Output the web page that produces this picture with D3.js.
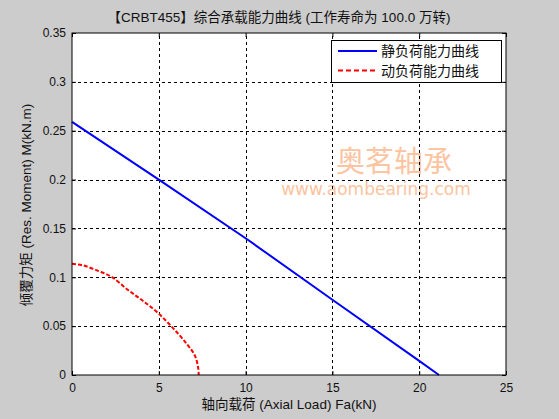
<!DOCTYPE html>
<html>
<head>
<meta charset="utf-8">
<script src="https://cdn.jsdelivr.net/npm/d3@7"></script>
<style>
  body { margin: 0; background: #cccccc; }
  svg { display: block; }
</style>
</head>
<body>
<svg id="chart" width="559" height="419"></svg>
<script>
// data
const staticLoad   = [0, 5, 10, 15, 20, 21.14];
const staticMoment = [0.259, 0.200, 0.140, 0.077, 0.0144, 0];

const dynLoad   = [0, 0.63, 1.5, 2.27, 3.23, 4.09, 4.95, 5.82, 6.59, 7.07, 7.26, 7.30];
const dynMoment = [0.1138, 0.1122, 0.1066, 0.1005, 0.0870, 0.0758, 0.0635, 0.0480, 0.0322, 0.0202, 0.0082, 0];

const xTicks = [0, 5, 10, 15, 20, 25];
const yTicks = [0, 0.05, 0.1, 0.15, 0.2, 0.25, 0.3, 0.35];
const legendNames = ["静负荷能力曲线", "动负荷能力曲线"];

const titleText = "【CRBT455】综合承载能力曲线 (工作寿命为 100.0 万转)";
const xLabel = "轴向载荷 (Axial Load) Fa(kN)";
const yLabel = "倾覆力矩 (Res. Moment) M(kN.m)";

function draw_chart() {
  const margin = ({top: 33, right: 53, bottom: 44, left: 72});
  const w = 559, h = 419;
  const svg = d3.select("#chart");
  const font = "'Liberation Sans', Arial, 'Noto Sans CJK SC', sans-serif";

  const x = d3.scaleLinear().domain([0, 25]).range([margin.left, w - margin.right]);
  const y = d3.scaleLinear().domain([0, 0.35]).range([h - margin.bottom, margin.top]);

  svg.selectAll('*').remove();

  // plot background
  svg.append("rect")
    .attr("x", x(0)).attr("y", y(0.35))
    .attr("width", x(25) - x(0)).attr("height", y(0) - y(0.35))
    .attr("fill", "white");

  // watermark
  svg.append("text")
    .attr("x", 394).attr("y", 172)
    .attr("text-anchor", "middle")
    .style("font-family", "'Noto Sans CJK SC', sans-serif")
    .style("font-size", "29px")
    .style("fill", "#fcc4a0")
    .text("奥茗轴承");
  svg.append("text")
    .attr("x", 376).attr("y", 195)
    .attr("text-anchor", "middle")
    .style("font-family", "'DejaVu Sans', sans-serif")
    .style("font-size", "17px")
    .style("fill", "#fcc4a0")
    .text("www.aombearing.com");

  // grid
  const grid = svg.append("g")
    .style("stroke", "black")
    .style("stroke-width", 1)
    .style("stroke-dasharray", "3,3");
  xTicks.slice(1, -1).forEach(t => {
    grid.append("line")
      .attr("x1", Math.round(x(t)) + 0.5).attr("x2", Math.round(x(t)) + 0.5)
      .attr("y1", y(0)).attr("y2", y(0.35));
  });
  yTicks.slice(1, -1).forEach(t => {
    grid.append("line")
      .attr("x1", x(0)).attr("x2", x(25))
      .attr("y1", Math.round(y(t)) + 0.5).attr("y2", Math.round(y(t)) + 0.5);
  });

  // curves
  const line = d3.line().x(d => x(d[0])).y(d => y(d[1]));
  svg.append("path")
    .datum(d3.zip(staticLoad, staticMoment))
    .attr("d", line)
    .attr("fill", "none")
    .attr("stroke", "#0000ff")
    .attr("stroke-width", 2);
  svg.append("path")
    .datum(d3.zip(dynLoad, dynMoment))
    .attr("d", line.curve(d3.curveCatmullRom))
    .attr("fill", "none")
    .attr("stroke", "#ff0000")
    .attr("stroke-width", 2)
    .attr("stroke-dasharray", "4,2");

  // axes, MATLAB style ticks inside
  const xAxis = g => g
    .attr("transform", `translate(0,${y(0)})`)
    .call(d3.axisBottom(x).tickValues(xTicks).tickSize(-4).tickPadding(8).tickFormat(d3.format("d")));
  const yAxis = g => g
    .attr("transform", `translate(${x(0)},0)`)
    .call(d3.axisLeft(y).tickValues(yTicks).tickSize(-4).tickPadding(6).tickFormat(d => d === 0 ? "0" : String(+d.toFixed(2))));
  const xAxisTop = g => g
    .attr("transform", `translate(0,${y(0.35)})`)
    .call(d3.axisTop(x).tickValues(xTicks).tickSize(-4).tickFormat(""));
  const yAxisRight = g => g
    .attr("transform", `translate(${x(25)},0)`)
    .call(d3.axisRight(y).tickValues(yTicks).tickSize(-4).tickFormat(""));

  [xAxis, yAxis, xAxisTop, yAxisRight].forEach(a => {
    const g = svg.append("g")
      .style("font-size", "12px")
      .style("font-family", font)
      .call(a);
    g.selectAll("text").style("fill", "#111");
    g.selectAll(".domain").remove();
  });

  // box
  svg.append("rect")
    .attr("x", x(0)).attr("y", y(0.35))
    .attr("width", x(25) - x(0)).attr("height", y(0) - y(0.35))
    .attr("fill", "none")
    .attr("stroke", "black")
    .attr("stroke-width", 1);

  // legend
  const lg = svg.append("g").attr("transform", "translate(331,40)");
  lg.append("rect")
    .attr("x", 0.5).attr("y", 0.5)
    .attr("width", 170).attr("height", 42)
    .attr("fill", "white")
    .attr("stroke", "black");
  const colors = ["#0000ff", "#ff0000"];
  legendNames.forEach((name, i) => {
    const ly = 11 + i * 19.5;
    lg.append("line")
      .attr("x1", 7).attr("x2", 46)
      .attr("y1", ly).attr("y2", ly)
      .attr("stroke", colors[i])
      .attr("stroke-width", 2)
      .attr("stroke-dasharray", i === 1 ? "5,3" : null);
    lg.append("text")
      .attr("x", 50).attr("y", ly + 5)
      .style("font-family", "'Noto Sans CJK SC', sans-serif")
      .style("font-size", "14px")
      .style("fill", "#111")
      .text(name);
  });

  // title and labels
  svg.append("text")
    .attr("x", 279).attr("y", 22)
    .attr("text-anchor", "middle")
    .style("font-family", font)
    .style("font-size", "13.5px")
    .style("fill", "#111")
    .text(titleText);
  svg.append("text")
    .attr("x", 289).attr("y", 409)
    .attr("text-anchor", "middle")
    .style("font-family", font)
    .style("font-size", "13.5px")
    .style("fill", "#111")
    .text(xLabel);
  svg.append("text")
    .attr("transform", "translate(31,205) rotate(-90)")
    .attr("text-anchor", "middle")
    .style("font-family", font)
    .style("font-size", "13.5px")
    .style("fill", "#111")
    .text(yLabel);
}

draw_chart();
</script>
</body>
</html>
